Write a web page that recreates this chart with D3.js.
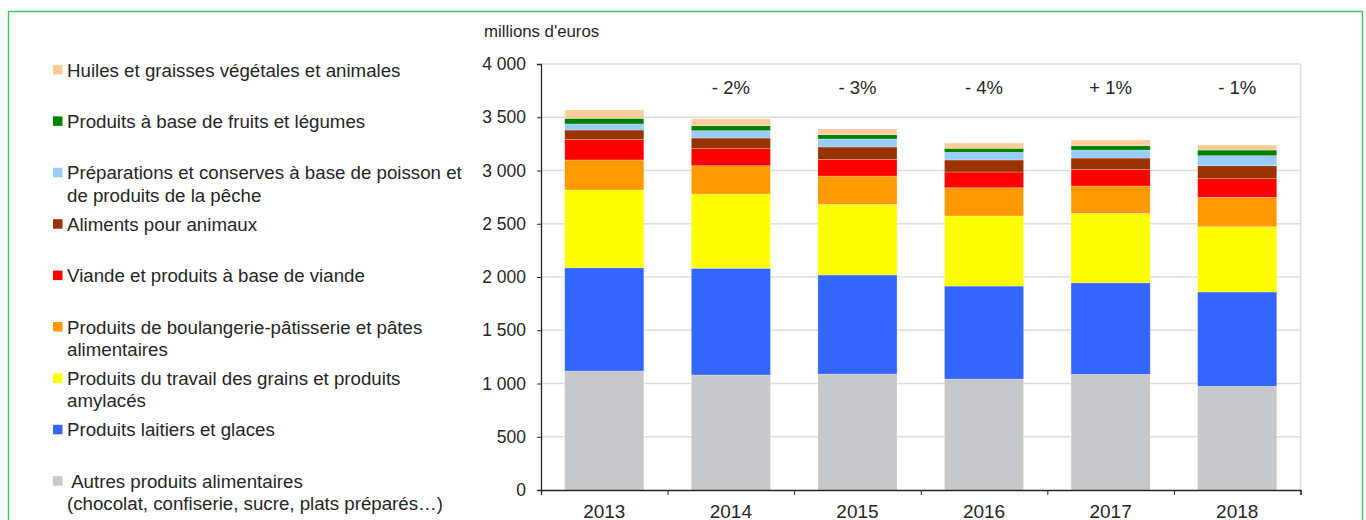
<!DOCTYPE html>
<html>
<head>
<meta charset="utf-8">
<script src="https://cdn.jsdelivr.net/npm/d3@7"></script>
<style>
  body { margin: 0; background: #fff; }
  text { font-family: "Liberation Sans", Arial, sans-serif; fill: #262626; }
</style>
</head>
<body>
<div id="container"></div>
<script>
// data (millions d'euros)
const years = ["2013", "2014", "2015", "2016", "2017", "2018"];
const autres = [1117, 1080, 1089, 1042, 1086, 974];
const laitiers = [970, 1002, 930, 873, 860, 885];
const grains = [730, 697, 664, 658, 652, 613];
const boulangerie = [282, 266, 265, 265, 256, 276];
const viande = [194, 160, 157, 148, 157, 175];
const aliments = [87, 100, 116, 113, 106, 122];
const poisson = [57, 69, 75, 72, 75, 94];
const fruits = [53, 47, 40, 37, 41, 53];
const huiles = [78, 63, 54, 50, 53, 47];
const variations = ["", "- 2%", "- 3%", "- 4%", "+ 1%", "- 1%"];
const yTicks = [0, 500, 1000, 1500, 2000, 2500, 3000, 3500, 4000];

// series, bottom to top
const series = [
    { key: "autres", values: autres, color: "#c7c8ca", label: [" Autres produits alimentaires", "(chocolat, confiserie, sucre, plats préparés…)"] },
    { key: "laitiers", values: laitiers, color: "#3366ff", label: ["Produits laitiers et glaces"] },
    { key: "grains", values: grains, color: "#ffff00", label: ["Produits du travail des grains et produits", "amylacés"] },
    { key: "boulangerie", values: boulangerie, color: "#ff9900", label: ["Produits de boulangerie-pâtisserie et pâtes", "alimentaires"] },
    { key: "viande", values: viande, color: "#ff0000", label: ["Viande et produits à base de viande"] },
    { key: "aliments", values: aliments, color: "#993300", label: ["Aliments pour animaux"] },
    { key: "poisson", values: poisson, color: "#99ccff", label: ["Préparations et conserves à base de poisson et", "de produits de la pêche"] },
    { key: "fruits", values: fruits, color: "#008000", label: ["Produits à base de fruits et légumes"] },
    { key: "huiles", values: huiles, color: "#ffcc99", label: ["Huiles et graisses végétales et animales"] }
];

const width = 1366, height = 520;
const svg = d3.select("#container").append("svg")
    .attr("width", width)
    .attr("height", height);

// green frame
svg.append("rect")
    .attr("x", 8.5).attr("y", 11.5)
    .attr("width", 1354).attr("height", 520)
    .attr("fill", "none")
    .attr("stroke", "#4cbf6b")
    .attr("stroke-width", 1.5);

const plot = { left: 541, right: 1300.5, top: 64, bottom: 490 };

const x = d3.scaleBand()
    .domain(years)
    .range([plot.left, plot.right])
    .paddingInner(0.375)
    .paddingOuter(0.1875);

const y = d3.scaleLinear()
    .domain([0, 4000])
    .range([plot.bottom, plot.top]);

// gridlines
svg.append("g")
    .selectAll("line")
    .data(yTicks.filter(d => d > 0))
    .enter().append("line")
    .attr("x1", plot.left).attr("x2", plot.right)
    .attr("y1", d => y(d)).attr("y2", d => y(d))
    .attr("stroke", "#dedede")
    .attr("stroke-width", 1.5);

svg.append("line")
    .attr("x1", plot.right).attr("x2", plot.right)
    .attr("y1", plot.top).attr("y2", plot.bottom)
    .attr("stroke", "#dedede")
    .attr("stroke-width", 1.5);

// stacked bars
const table = years.map((yr, i) => {
    const row = { year: yr };
    series.forEach(s => row[s.key] = s.values[i]);
    return row;
});
const stacked = d3.stack().keys(series.map(s => s.key))(table);

svg.append("g")
    .selectAll("g")
    .data(stacked)
    .enter().append("g")
    .attr("fill", (d, i) => series[i].color)
    .selectAll("rect")
    .data(d => d)
    .enter().append("rect")
    .attr("x", d => x(d.data.year))
    .attr("y", d => y(d[1]))
    .attr("width", x.bandwidth())
    .attr("height", d => y(d[0]) - y(d[1]))
    .attr("stroke", "#ffffff")
    .attr("stroke-opacity", 0.35)
    .attr("stroke-width", 0.7);

// variation labels
svg.append("g")
    .selectAll("text")
    .data(variations)
    .enter().append("text")
    .attr("x", (d, i) => x(years[i]) + x.bandwidth() / 2)
    .attr("y", 94)
    .attr("text-anchor", "middle")
    .style("font-size", "18.5px")
    .text(d => d);

// y axis
const fmt = d3.formatLocale({ thousands: " ", grouping: [3], decimal: ",", currency: ["", " €"] }).format(",");
const yAxis = svg.append("g")
    .attr("transform", `translate(${plot.left},0)`)
    .call(d3.axisLeft(y).tickValues(yTicks).tickSize(4).tickPadding(11).tickFormat(fmt));
yAxis.select(".domain").attr("stroke", "#262626").attr("stroke-width", 1.3);
yAxis.selectAll(".tick line").attr("stroke", "#262626");
yAxis.selectAll("text")
    .style("font-size", "17.5px")
    .style("font-family", "'Liberation Sans', Arial, sans-serif")
    .attr("fill", "#262626");

// x axis: ticks between categories, labels centred under bars
const xb = d3.scaleLinear().domain([0, years.length]).range([plot.left, plot.right]);
const xTicks = svg.append("g")
    .attr("transform", `translate(0,${plot.bottom})`)
    .call(d3.axisBottom(xb).ticks(years.length).tickSize(5).tickFormat(""));
xTicks.select(".domain").attr("stroke", "#262626").attr("stroke-width", 1.3);
xTicks.selectAll(".tick line").attr("stroke", "#262626");

const xLabels = svg.append("g")
    .attr("transform", `translate(0,${plot.bottom})`)
    .call(d3.axisBottom(x).tickSize(0).tickPadding(15));
xLabels.select(".domain").remove();
xLabels.selectAll("text")
    .style("font-size", "19px")
    .style("font-family", "'Liberation Sans', Arial, sans-serif")
    .attr("fill", "#262626");

// unit
svg.append("text")
    .attr("x", 484)
    .attr("y", 37)
    .style("font-size", "16.8px")
    .text("millions d'euros");

// legend, top item is the top of the stack
const legendItems = series.slice().reverse();
const legend = svg.append("g");
legendItems.forEach((s, i) => {
    const cy = 70 + i * 51.4;
    legend.append("rect")
        .attr("x", 53).attr("y", cy - 5)
        .attr("width", 9.5).attr("height", 9.5)
        .attr("fill", s.color);
    const t = legend.append("text")
        .attr("x", 67)
        .attr("y", cy + 6.5)
        .style("font-size", "18.7px");
    s.label.forEach((line, j) => {
        t.append("tspan")
            .attr("x", 67)
            .attr("dy", j === 0 ? 0 : 22.5)
            .attr("xml:space", "preserve")
            .style("white-space", "pre")
            .text(line);
    });
});
</script>
</body>
</html>
